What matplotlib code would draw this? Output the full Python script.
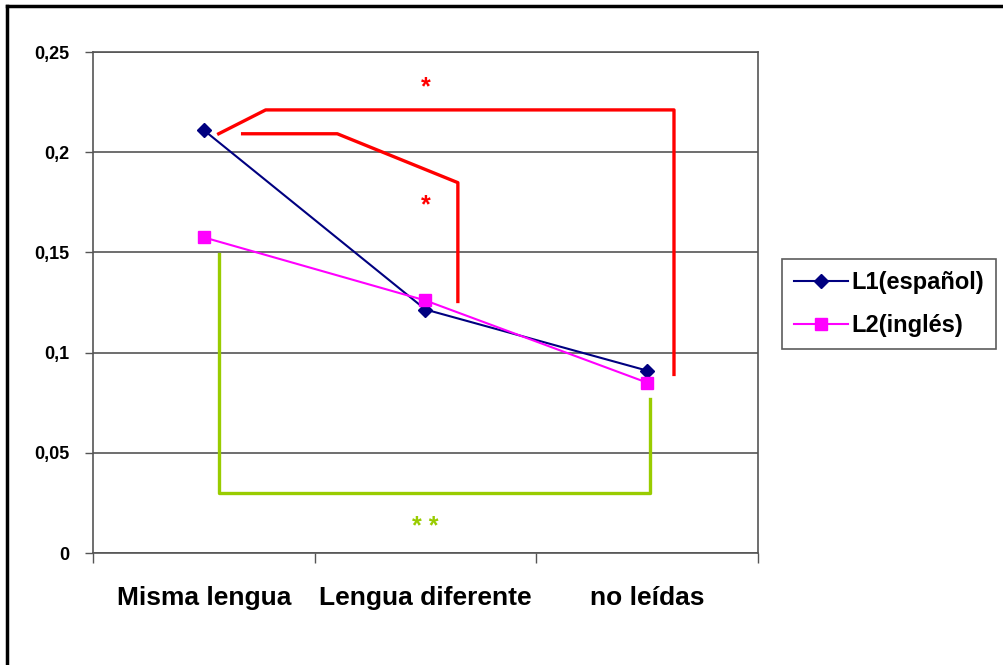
import numpy as np
import matplotlib
matplotlib.use('Agg')
import matplotlib.pyplot as plt
from matplotlib.lines import Line2D

#----------------------------------------------------------------- Data -----------------------------------------------------------------#
categories = ['Misma lengua', 'Lengua diferente', 'no leídas']
l1_values = [0.211, 0.1215, 0.091]     # L1(español)
l2_values = [0.1575, 0.126, 0.085]     # L2(inglés)
series_labels = ['L1(español)', 'L2(inglés)']
y_ticks = [0, 0.05, 0.1, 0.15, 0.2, 0.25]
y_tick_labels = ['0', '0,05', '0,1', '0,15', '0,2', '0,25']

# significance brackets (category index, value)
bracket_outer_x = [0.067, 0.279, 2.121, 2.121]
bracket_outer_y = [0.2092, 0.2211, 0.2211, 0.0891]
bracket_inner_x = [0.175, 0.602, 1.146, 1.146]
bracket_inner_y = [0.2092, 0.2092, 0.1848, 0.1255]
bracket_green_x = [0.067, 0.067, 2.013, 2.013]
bracket_green_y = [0.1494, 0.0299, 0.0299, 0.0767]
star_labels = ['*', '*', '* *']
star_x = [1.0, 1.0, 1.0]
star_y = [0.2326, 0.1733, 0.0129]
star_colors = ['#FF0000', '#FF0000', '#99CC00']
#----------------------------------------------------------------------------------------------------------------------------------------#

plt.rcParams['font.family'] = ['Liberation Sans', 'DejaVu Sans']

fig = plt.figure(figsize=(10.04, 6.65), dpi=100)
ax = fig.add_axes([93/1004, 1 - 553/665, (758 - 93)/1004, (553 - 52)/665])

x = np.arange(len(categories))
ax.plot(x, l1_values, color='#000080', lw=1.5, marker='D', ms=7, label=series_labels[0], zorder=4)
ax.plot(x, l2_values, color='#FF00FF', lw=1.5, marker='s', ms=9, label=series_labels[1], zorder=4)

# brackets
ax.plot(bracket_outer_x, bracket_outer_y, color='#FF0000', lw=2.4, clip_on=False, zorder=3)
ax.plot(bracket_inner_x, bracket_inner_y, color='#FF0000', lw=2.4, clip_on=False, zorder=3)
ax.plot(bracket_green_x, bracket_green_y, color='#99CC00', lw=2.4, clip_on=False, zorder=3)
for lab, sx, sy, c in zip(star_labels, star_x, star_y, star_colors):
    ax.text(sx, sy, lab, color=c, fontsize=18, fontweight='bold', ha='center', va='center')

ax.set_xlim(-0.5, 2.5)
ax.set_ylim(0, 0.25)

# y axis
ax.set_yticks(y_ticks)
ax.set_yticklabels(y_tick_labels, fontsize=13, fontweight='bold')
ax.tick_params(axis='y', length=6, width=1, color='#555555', pad=11)
ax.yaxis.grid(True, color='#555555', lw=1.2)
ax.set_axisbelow(True)

# x axis: labels at centers, ticks at boundaries
ax.set_xticks(x)
ax.set_xticklabels(categories, fontsize=19, fontweight='bold')
ax.tick_params(axis='x', which='major', length=0, pad=24)
ax.set_xticks([-0.5, 0.5, 1.5, 2.5], minor=True)
ax.tick_params(axis='x', which='minor', length=7, width=1, color='#555555')

for s in ax.spines.values():
    s.set_color('#555555')
    s.set_linewidth(1.2)

leg = ax.legend(loc='center left', bbox_to_anchor=(782/1004, 1 - 304/665),
                bbox_transform=fig.transFigure, frameon=True, fancybox=False,
                edgecolor='#333333', prop={'weight': 'bold', 'size': 17},
                handlelength=2.3, handletextpad=0.15, labelspacing=0.85,
                borderpad=0.5, borderaxespad=0)
leg.get_frame().set_linewidth(1.2)

# outer border of the picture
fig.add_artist(Line2D([7/1004, 7/1004], [0, 1 - 6/665], color='black', lw=2.5))
fig.add_artist(Line2D([7/1004, 1], [1 - 6/665, 1 - 6/665], color='black', lw=2.5))

fig.savefig('out.png', dpi=100, facecolor='white')
